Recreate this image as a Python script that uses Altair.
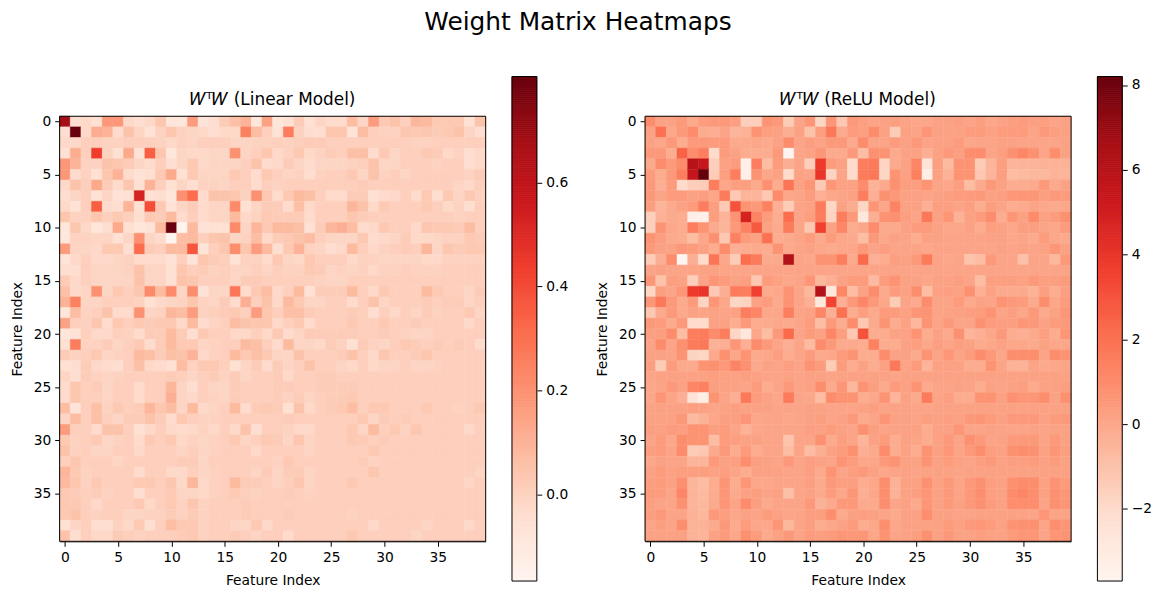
import altair as alt
import numpy as np
import pandas as pd

# Upper triangles (both matrices are symmetric). Row i starts at column i.
# Linear model values are in hundredths, ReLU model values in tenths.
L00 = [68,-4,-2,-5,18,18,-2,-4,-2,4,-8,-8,17,-7,-4,2,6,10,-8,15,-8,-5,2,-5,-1,-3,-3,7,-1,17,3,5,1,9,8,3,3,3,-5,5]
L01 = [80,-2,12,10,-3,5,-1,-6,0,4,0,-1,-2,-4,-2,-2,25,7,1,-6,26,0,-4,-4,4,4,-7,7,1,0,0,4,3,4,2,3,5,-1,-4]
L02 = [1,1,0,0,1,1,1,0,-2,0,-1,1,1,1,-1,-1,0,0,1,0,1,2,2,1,1,1,1,1,1,1,1,0,0,1,1,1,1,1]
L03 = [44,0,-5,13,-6,35,4,-8,-1,-2,-2,-1,-1,20,-1,1,4,-2,0,3,-2,0,2,1,6,6,-3,3,-1,1,1,3,2,-2,0,-4,-2]
L04 = [5,4,2,-1,-3,1,-4,-1,3,-2,-1,-1,-1,1,5,-3,-2,2,-1,-3,-1,-1,-1,0,1,5,-1,-1,1,1,1,0,1,1,-4,-2]
L05 = [10,-3,-6,-4,3,13,-5,3,-1,-1,-1,3,1,-3,3,1,-1,0,-4,0,1,1,3,-1,5,0,1,-1,1,1,1,1,1,0,2]
L06 = [4,-5,10,1,-5,-1,-4,0,0,-1,1,1,-3,1,0,1,1,1,1,1,1,1,2,1,1,1,1,1,1,1,1,-1,-2,1]
L07 = [53,-5,-4,-8,20,31,-3,5,5,4,0,20,3,-3,3,8,6,1,-3,-3,2,2,-5,-3,-2,1,-3,3,-4,3,-1,3,0]
L08 = [39,3,-6,-1,2,-3,-1,-1,22,-5,-1,2,2,-3,6,-2,1,1,1,9,5,-2,3,1,1,1,3,1,-2,0,-4,1]
L09 = [2,8,-3,1,-3,-1,-1,8,-2,0,3,2,2,2,-3,1,1,1,4,2,1,1,1,1,1,1,1,1,0,1,1]
L10 = [80,-16,8,-6,-5,-5,22,-1,9,3,8,8,6,-5,2,9,11,7,-3,-2,3,1,1,-2,4,3,3,2,7,1]
L11 = [7,8,1,4,5,-1,0,7,-2,2,3,5,7,1,-1,-1,-1,3,-3,-2,-1,2,-2,-2,-1,0,0,3,2]
L12 = [37,-7,1,4,21,4,17,8,-4,3,10,0,-1,-4,-2,8,1,-2,0,1,2,1,9,-1,4,2,3,3]
L13 = [4,2,1,-6,0,0,-3,3,-1,-2,3,1,1,1,-2,0,0,-1,-1,-1,-1,-2,-2,0,0,0,0]
L14 = [0,1,-1,-1,1,-1,1,0,0,3,2,-1,0,-1,0,-2,0,0,1,0,0,0,1,1,1,1]
L15 = [1,-1,2,2,1,1,1,1,1,0,-1,-1,1,1,1,1,1,1,1,1,1,1,1,1,1]
L16 = [28,-3,3,7,-2,1,8,-5,2,2,2,8,1,-2,3,1,1,1,8,3,1,1,-1,2]
L17 = [11,1,5,-2,8,3,-1,-1,1,1,-3,1,5,-1,1,1,1,2,1,2,2,-1,1]
L18 = [17,4,1,6,6,2,1,1,1,2,1,-4,1,-2,1,-1,2,0,1,1,3,-1]
L19 = [4,-2,1,3,-3,1,1,1,3,1,1,3,1,1,2,1,1,1,1,-2,1]
L20 = [3,-3,-1,2,2,2,2,2,1,1,2,1,0,-1,-1,1,1,1,1,1]
L21 = [8,-1,-1,-2,2,0,-5,2,0,-1,1,3,2,1,2,1,2,1,-3]
L22 = [5,1,1,1,2,5,1,-2,4,1,1,2,4,1,1,1,1,1]
L23 = [5,1,1,-1,-2,1,-2,-1,-1,1,-1,-1,0,1,1,1,1]
L24 = [2,2,1,1,1,1,1,1,1,1,1,1,1,1,1,1]
L25 = [2,2,2,1,1,1,1,1,1,1,1,1,1,1,1]
L26 = [2,3,1,1,1,1,1,1,1,1,1,1,1,1]
L27 = [7,1,3,3,1,1,1,3,1,1,0,1,3]
L28 = [3,-1,2,1,2,1,1,1,1,1,1,1]
L29 = [8,1,3,0,4,1,1,1,1,-2,1]
L30 = [2,1,1,1,1,1,1,1,1,1]
L31 = [1,1,1,1,1,1,1,1,1]
L32 = [1,1,1,1,1,1,1,1]
L33 = [1,1,1,1,1,1,-1]
L34 = [1,1,1,1,-1,1]
L35 = [1,1,1,1,1]
L36 = [1,1,1,1]
L37 = [1,1,1]
L38 = [-2,1]
L39 = [1]

R00 = [10,2,2,5,-1,4,5,5,3,-15,-15,7,5,-14,1,6,-18,6,-12,5,3,1,2,3,1,0,0,2,2,3,1,3,0,2,3,4,3,3,1,2]
R01 = [20,0,5,10,-2,-3,1,-5,-4,7,3,2,-3,2,-10,3,17,-1,4,3,10,2,-14,2,1,6,2,2,2,4,4,2,4,4,4,1,5,3,2]
R02 = [5,-2,5,5,4,4,-1,-1,0,-1,2,10,1,3,1,5,5,-1,10,1,1,4,2,5,1,2,2,4,0,1,1,2,2,1,1,1,1,2]
R03 = [25,10,15,-20,4,2,-2,-2,-2,5,-37,1,2,6,-1,-1,5,-8,8,7,-1,2,2,-3,2,5,3,9,10,1,3,8,12,8,1,9,2]
R04 = [60,55,-15,2,4,-33,15,-8,4,-3,1,-15,38,4,2,-20,15,16,-17,-1,2,12,-24,3,-7,7,7,-14,-5,3,-5,-5,-5,-4,-4,-4]
R05 = [82,-14,3,15,-33,7,0,2,-20,2,1,40,-17,1,-20,16,17,-18,7,2,14,-32,2,-4,7,7,-12,-5,3,-8,-7,-6,-6,-4,-5]
R06 = [15,0,3,3,-1,8,-2,18,2,6,-13,6,2,2,10,-4,-1,8,3,3,7,1,0,3,-8,-1,5,2,-2,-2,-1,5,-1,2]
R07 = [16,-13,-5,-5,-12,10,0,1,4,-3,0,1,2,15,-3,8,5,2,2,1,2,3,4,4,5,2,3,6,6,6,3,5,4]
R08 = [30,7,5,14,-3,-14,1,2,16,-18,2,-2,-18,6,0,13,2,2,-3,3,3,1,3,-2,3,1,-2,-1,1,0,-1,0]
R09 = [48,13,4,-2,21,1,3,15,-17,15,5,-27,-3,7,8,3,1,17,2,6,-4,2,4,9,-2,6,2,10,2,4,8]
R10 = [28,2,-1,16,1,-12,36,2,12,-2,0,10,-1,-1,2,4,4,2,0,0,2,-2,3,2,0,3,3,1,0,4]
R11 = [20,-2,-1,1,4,-1,4,0,-1,-8,5,0,2,1,-2,2,2,1,1,1,1,2,2,0,1,-1,4,0,-1]
R12 = [7,-1,1,2,0,-1,0,0,5,1,3,1,1,1,0,1,1,1,1,1,1,2,1,2,1,2,6]
R13 = [62,1,0,7,7,15,-1,22,-3,-2,3,2,5,16,1,0,1,-11,-8,5,1,1,-9,1,1,-6,5]
R14 = [1,1,1,1,1,1,1,1,1,1,1,1,1,1,1,1,1,1,1,1,1,1,1,1,1,1]
R15 = [6,-6,-3,2,4,4,-7,4,7,2,2,0,2,2,3,1,-8,3,3,3,2,5,3,3,4]
R16 = [62,-28,12,-8,2,10,-1,4,2,9,-8,2,3,2,8,-3,2,-1,-1,-1,-4,3,-2,3]
R17 = [35,-3,5,12,5,0,-14,1,-1,10,1,1,4,-1,2,1,7,5,4,-1,9,0,4]
R18 = [20,-2,3,-1,4,4,2,6,7,1,2,2,3,4,7,1,3,0,5,-1,2,6]
R19 = [10,-12,-1,7,-2,2,-6,7,1,5,1,1,8,4,3,3,6,5,2,4,5]
R20 = [30,-2,-2,2,2,7,-2,2,-1,8,-5,-3,0,5,-2,-3,-1,3,-2,6]
R21 = [14,-2,-2,2,3,0,3,1,3,2,-1,0,2,0,0,-1,2,0,0]
R22 = [10,2,2,-1,7,1,6,1,4,10,5,0,9,9,9,1,9,7]
R23 = [17,1,4,-5,2,2,2,-2,-2,7,1,-4,-4,1,-1,0,1]
R24 = [2,2,2,2,2,2,2,2,2,2,2,2,2,2,2,2]
R25 = [7,-1,1,1,2,1,-2,2,1,2,3,-1,2,2,3]
R26 = [16,1,3,-2,-2,7,7,2,8,6,6,9,2,8]
R27 = [2,2,2,2,2,2,2,2,2,2,2,2,2]
R28 = [3,2,5,6,4,2,5,5,5,2,4,5]
R29 = [6,1,1,2,1,1,1,2,1,2,2]
R30 = [8,5,1,2,5,5,5,1,5,2]
R31 = [9,3,2,8,9,8,2,6,3]
R32 = [5,2,3,3,4,2,4,2]
R33 = [2,2,2,2,2,2,2]
R34 = [8,10,9,2,7,4]
R35 = [12,9,2,8,6]
R36 = [9,1,8,6]
R37 = [6,1,1]
R38 = [9,6]
R39 = [7]

LINEAR = [L00,L01,L02,L03,L04,L05,L06,L07,L08,L09,L10,L11,L12,L13,L14,L15,L16,L17,L18,L19,
          L20,L21,L22,L23,L24,L25,L26,L27,L28,L29,L30,L31,L32,L33,L34,L35,L36,L37,L38,L39]
RELU = [R00,R01,R02,R03,R04,R05,R06,R07,R08,R09,R10,R11,R12,R13,R14,R15,R16,R17,R18,R19,
        R20,R21,R22,R23,R24,R25,R26,R27,R28,R29,R30,R31,R32,R33,R34,R35,R36,R37,R38,R39]

N = 40
SUPTITLE = "Weight Matrix Heatmaps"
TITLES = ["\U0001D44A\u1D40\U0001D44A (Linear Model)", "\U0001D44A\u1D40\U0001D44A (ReLU Model)"]
AX_TITLE = "Feature Index"
TICKS = [0, 5, 10, 15, 20, 25, 30, 35]
DOM_L = [-0.167, 0.804]
DOM_R = [-3.7, 8.2]
CB_TICKS_L = [0.0, 0.2, 0.4, 0.6]
CB_TICKS_R = [-2, 0, 2, 4, 6, 8]
REDS = ["#fff5f0", "#fee0d2", "#fcbba1", "#fc9272", "#fb6a4a", "#ef3b2c", "#cb181d", "#a50f15", "#67000d"]


def stops(dom):
    return [dom[0] + (dom[1] - dom[0]) * k / 8 for k in range(9)]


def table(tri, unit, fallback):
    rows = []
    for i, r in enumerate(tri):
        r = (list(r) + [fallback] * N)[:N - i]
        for k, v in enumerate(r):
            j = i + k
            rows.append({"c": j, "r": i, "v": v * unit})
            if i != j:
                rows.append({"c": i, "r": j, "v": v * unit})
    df = pd.DataFrame(rows)
    df["x0"] = df.c - 0.5
    df["x1"] = df.c + 0.5
    df["y0"] = df.r - 0.5
    df["y1"] = df.r + 0.5
    return df


AX = dict(domainColor="black", tickColor="black", labelColor="black", titleColor="black",
          labelFont="DejaVu Sans", titleFont="DejaVu Sans", labelFontSize=13.9, titleFontSize=13.9,
          titleFontWeight="normal", tickSize=5, tickWidth=1, domainWidth=1, labelPadding=4,
          grid=False, labelFlush=False, labelOverlap=False)


def heat(df, dom, title):
    scale = alt.Scale(domain=stops(dom), range=REDS, clamp=True, interpolate="rgb")
    xs = alt.Scale(domain=[-0.5, 39.5], nice=False, zero=False)
    ys = alt.Scale(domain=[39.5, -0.5], nice=False, zero=False)
    cells = alt.Chart(df).mark_rect(strokeWidth=0.5).encode(
        x=alt.X("x0:Q", scale=xs,
                axis=alt.Axis(values=TICKS, title=AX_TITLE, format="d", titlePadding=10, **AX)),
        x2="x1:Q",
        y=alt.Y("y0:Q", scale=ys,
                axis=alt.Axis(values=TICKS, title=AX_TITLE, format="d", titlePadding=9, **AX)),
        y2="y1:Q",
        color=alt.Color("v:Q", scale=scale, legend=None),
        stroke=alt.Stroke("v:Q", scale=scale, legend=None),
    )
    box = alt.Chart(pd.DataFrame({"x0": [-0.5], "x1": [39.5], "y0": [39.5], "y1": [-0.5]})).mark_rect(
        fillOpacity=0, stroke="black", strokeWidth=1).encode(
        x=alt.X("x0:Q", scale=xs), x2="x1:Q", y=alt.Y("y0:Q", scale=ys), y2="y1:Q")
    return alt.layer(cells, box).properties(
        width=429, height=428,
        title=alt.TitleParams(title, fontSize=17, font="DejaVu Sans", fontWeight="normal",
                              color="black", offset=6))


def cbar(dom, ticks, fmt):
    lv = np.linspace(dom[0], dom[1], 257)
    d = pd.DataFrame({"a": lv[:-1], "b": lv[1:]})
    d["m"] = (d.a + d.b) / 2
    d["p"] = 0
    d["q"] = 1
    scale = alt.Scale(domain=stops(dom), range=REDS, interpolate="rgb")
    xs = alt.Scale(domain=[0, 1], nice=False)
    ys = alt.Scale(domain=dom, nice=False, zero=False)
    bands = alt.Chart(d).mark_rect(strokeWidth=0.8).encode(
        x=alt.X("p:Q", scale=xs, axis=None),
        x2="q:Q",
        y=alt.Y("a:Q", scale=ys,
                axis=alt.Axis(orient="right", values=ticks, title=None, format=fmt, domain=False, **AX)),
        y2="b:Q",
        color=alt.Color("m:Q", scale=scale, legend=None),
        stroke=alt.Stroke("m:Q", scale=scale, legend=None),
    )
    box = alt.Chart(pd.DataFrame({"p": [0], "q": [1], "a": [dom[0]], "b": [dom[1]]})).mark_rect(
        fillOpacity=0, stroke="black", strokeWidth=1).encode(
        x=alt.X("p:Q", scale=xs, axis=None), x2="q:Q", y=alt.Y("a:Q", scale=ys), y2="b:Q")
    return alt.layer(bands, box).properties(width=25, height=508)


spacer = alt.Chart(pd.DataFrame({"z": [0]})).mark_point(opacity=0).encode(
    x=alt.X("z:Q", axis=None), y=alt.Y("z:Q", axis=None)
).properties(width=56, height=10, view=alt.ViewBackground(stroke=None))

chart = alt.hconcat(
    heat(table(LINEAR, 0.01, 1), DOM_L, TITLES[0]),
    cbar(DOM_L, CB_TICKS_L, ".1f"),
    spacer,
    heat(table(RELU, 0.1, 2), DOM_R, TITLES[1]),
    cbar(DOM_R, CB_TICKS_R, "d"),
    spacing=26.5, center=True, bounds="flush",
).resolve_scale(color="independent", stroke="independent").properties(
    title=alt.TitleParams(SUPTITLE, fontSize=25, font="DejaVu Sans", fontWeight="normal", color="black",
                          anchor="middle", offset=41, dx=-3),
    padding={"left": 2, "top": 0, "right": 5, "bottom": 0},
    background="white",
).configure_view(strokeWidth=0)

chart.save("out.html", embed_options={"renderer": "svg", "actions": False})
